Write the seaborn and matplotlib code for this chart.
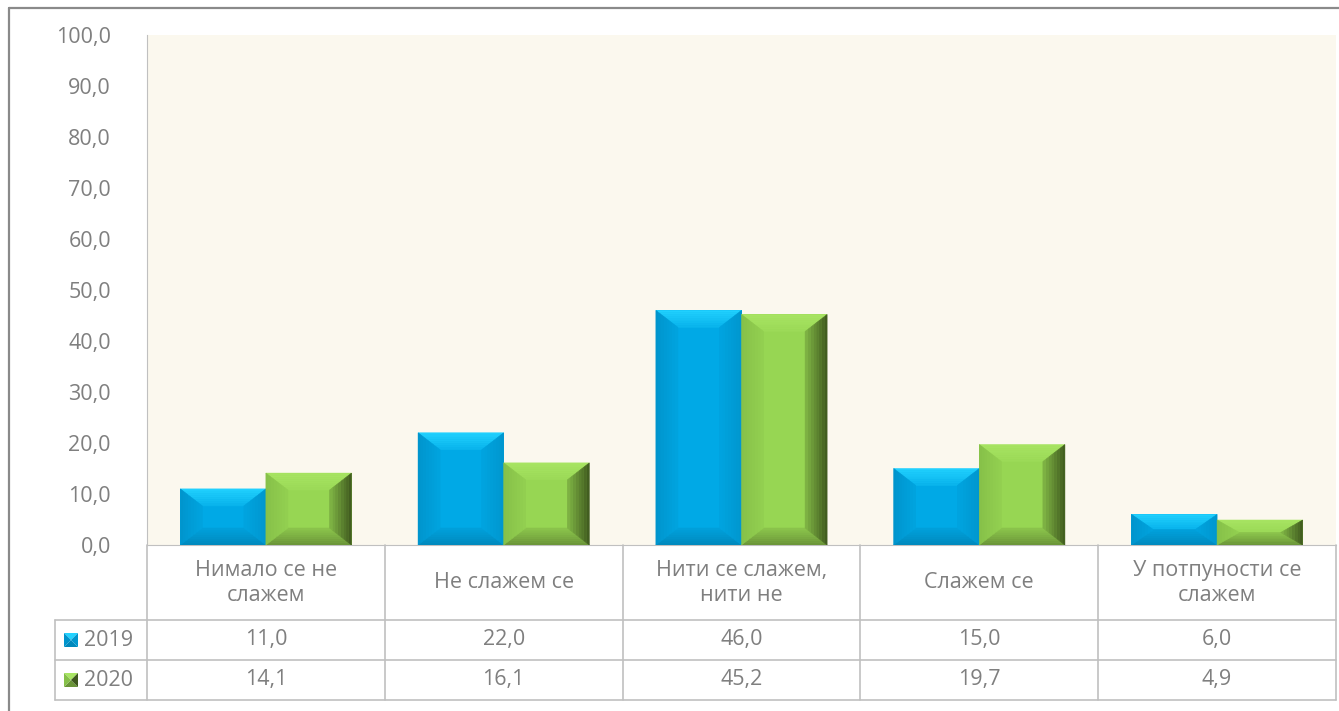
import numpy as np
import matplotlib
matplotlib.use("Agg")
import matplotlib.pyplot as plt
import pandas as pd
import seaborn as sns
from matplotlib.patches import Polygon
from matplotlib.lines import Line2D
from matplotlib.colors import to_rgb
import matplotlib.transforms as mtransforms

categories = ['Нимало се не\nслажем', 'Не слажем се', 'Нити се слажем,\nнити не',
              'Слажем се', 'У потпуности се\nслажем']
years = ['2019', '2020']
values_2019 = [11.0, 22.0, 46.0, 15.0, 6.0]
values_2020 = [14.1, 16.1, 45.2, 19.7, 4.9]
yticks = [0, 10, 20, 30, 40, 50, 60, 70, 80, 90, 100]

df = pd.DataFrame({
    'cat': categories * 2,
    'year': [years[0]] * 5 + [years[1]] * 5,
    'val': values_2019 + values_2020,
})

sns.set_style('white')
plt.rcParams['font.family'] = ['Open Sans', 'DejaVu Sans']
txt_col = '#7f7f7f'
line_col = '#c0c0c0'
fs = 15.5

# цвета: лицо, верх, низ, лево, право (внешний край грани)
shades = {
    '2019': ['#00A9E6', '#22D2FF', '#0088BC', '#0094CC', '#0096CE'],
    '2020': ['#97D653', '#A8E563', '#6A9438', '#86C049', '#3E581E'],
}


def mix(c1, c2, t):
    a, b = np.array(to_rgb(c1)), np.array(to_rgb(c2))
    return tuple(a * (1 - t) + b * t)


W, H = 1339, 711
fig = plt.figure(figsize=(W / 100, H / 100), dpi=100)
L, R, T, B = 147, 1336, 35, 545
ax = fig.add_axes([L / W, 1 - B / H, (R - L) / W, (B - T) / H])
ax.set_facecolor('#FBF8EE')

sns.barplot(data=df, x='cat', y='val', hue='year', hue_order=years,
            palette=[shades['2019'][0], shades['2020'][0]], width=0.72, gap=0,
            legend=False, ax=ax, linewidth=0, saturation=1)

ax.set_ylim(0, 100)
ax.set_xlim(-0.5, 4.5)
ax.set_yticks(yticks)
ax.set_yticklabels([f'{v:.1f}'.replace('.', ',') for v in yticks], color=txt_col, fontsize=fs)
ax.tick_params(axis='y', length=0, pad=26)
ax.set_xticks([])
ax.set_xlabel('')
ax.set_ylabel('')
for s in ['top', 'right']:
    ax.spines[s].set_visible(False)
ax.spines['left'].set_color(line_col)
ax.spines['bottom'].set_color(line_col)

# скошенные грани столбцов с плавным переходом
px_x = 22 * (ax.get_xlim()[1] - ax.get_xlim()[0]) / (R - L)
px_y = 17 * 100 / (B - T)
steps = 8
for i, p in enumerate(list(ax.patches)):
    yr = years[i // 5]
    face, top, bot, lft, rgt = shades[yr]
    x0, w, h = p.get_x(), p.get_width(), p.get_height()
    x1 = x0 + w
    by = min(px_y, h / 2)
    bx = min(px_x, w / 2)
    for k in range(steps):
        t0, t1 = k / steps, (k + 1) / steps
        f = (k + 0.5) / steps
        ax0, ax1 = x0 + bx * t0, x1 - bx * t0
        ay0, ay1 = by * t0, h - by * t0
        bx0, bx1 = x0 + bx * t1, x1 - bx * t1
        by0, by1 = by * t1, h - by * t1
        polys = [
            ([(ax0, ay1), (ax1, ay1), (bx1, by1), (bx0, by1)], top),
            ([(ax0, ay0), (ax1, ay0), (bx1, by0), (bx0, by0)], bot),
            ([(ax0, ay0), (ax0, ay1), (bx0, by1), (bx0, by0)], lft),
            ([(ax1, ay0), (ax1, ay1), (bx1, by1), (bx1, by0)], rgt),
        ]
        for pts, c in polys:
            col = mix(c, face, 0.75 * f)
            ax.add_patch(Polygon(pts, closed=True, facecolor=col, edgecolor=col,
                                 lw=0.4, zorder=3))

# таблица данных под графиком
def fy(py):
    return (B - py) / (B - T)


def fx(px):
    return (px - L) / (R - L)


tr = mtransforms.blended_transform_factory(ax.transData, ax.transAxes)
for k in range(6):
    xv = fx(L + k * (R - L) / 5)
    ax.add_line(Line2D([xv, xv], [fy(545), fy(700)], transform=ax.transAxes,
                       color=line_col, lw=1.2, clip_on=False))
ax.add_line(Line2D([fx(55), fx(55)], [fy(620), fy(700)], transform=ax.transAxes,
                   color=line_col, lw=1.2, clip_on=False))
for py in [620, 660, 700]:
    ax.add_line(Line2D([fx(55), 1], [fy(py), fy(py)], transform=ax.transAxes,
                       color=line_col, lw=1.2, clip_on=False))

for j, c in enumerate(categories):
    ax.text(j, fy(583), c, transform=tr, ha='center', va='center', color=txt_col,
            fontsize=fs, linespacing=1.3, clip_on=False)

rows = [(years[0], values_2019, 640), (years[1], values_2020, 680)]
for yr, vals, py in rows:
    for j, v in enumerate(vals):
        ax.text(j, fy(py), f'{v:.1f}'.replace('.', ','), transform=tr, ha='center',
                va='center', color=txt_col, fontsize=fs, clip_on=False)
    ax.text(fx(84), fy(py), yr, transform=ax.transAxes, ha='left', va='center',
            color=txt_col, fontsize=fs, clip_on=False)
    # значок легенды
    face, top, bot, lft, rgt = shades[yr]
    sx0, sx1 = fx(64), fx(78)
    sy0, sy1 = fy(py + 7), fy(py - 7)
    cx, cy = (sx0 + sx1) / 2, (sy0 + sy1) / 2
    for pts, c in [([(sx0, sy1), (sx1, sy1), (cx, cy)], top),
                   ([(sx0, sy0), (sx1, sy0), (cx, cy)], bot),
                   ([(sx0, sy0), (sx0, sy1), (cx, cy)], lft),
                   ([(sx1, sy0), (sx1, sy1), (cx, cy)], rgt)]:
        ax.add_patch(Polygon(pts, closed=True, facecolor=c, edgecolor='none',
                             transform=ax.transAxes, clip_on=False))

# рамка диаграммы
fig.add_artist(Line2D([9 / W, 9 / W], [0, 1 - 8 / H], color='#8a8a8a', lw=1.6))
fig.add_artist(Line2D([9 / W, 1], [1 - 8 / H, 1 - 8 / H], color='#8a8a8a', lw=1.6))

plt.savefig('out.png', dpi=100)
